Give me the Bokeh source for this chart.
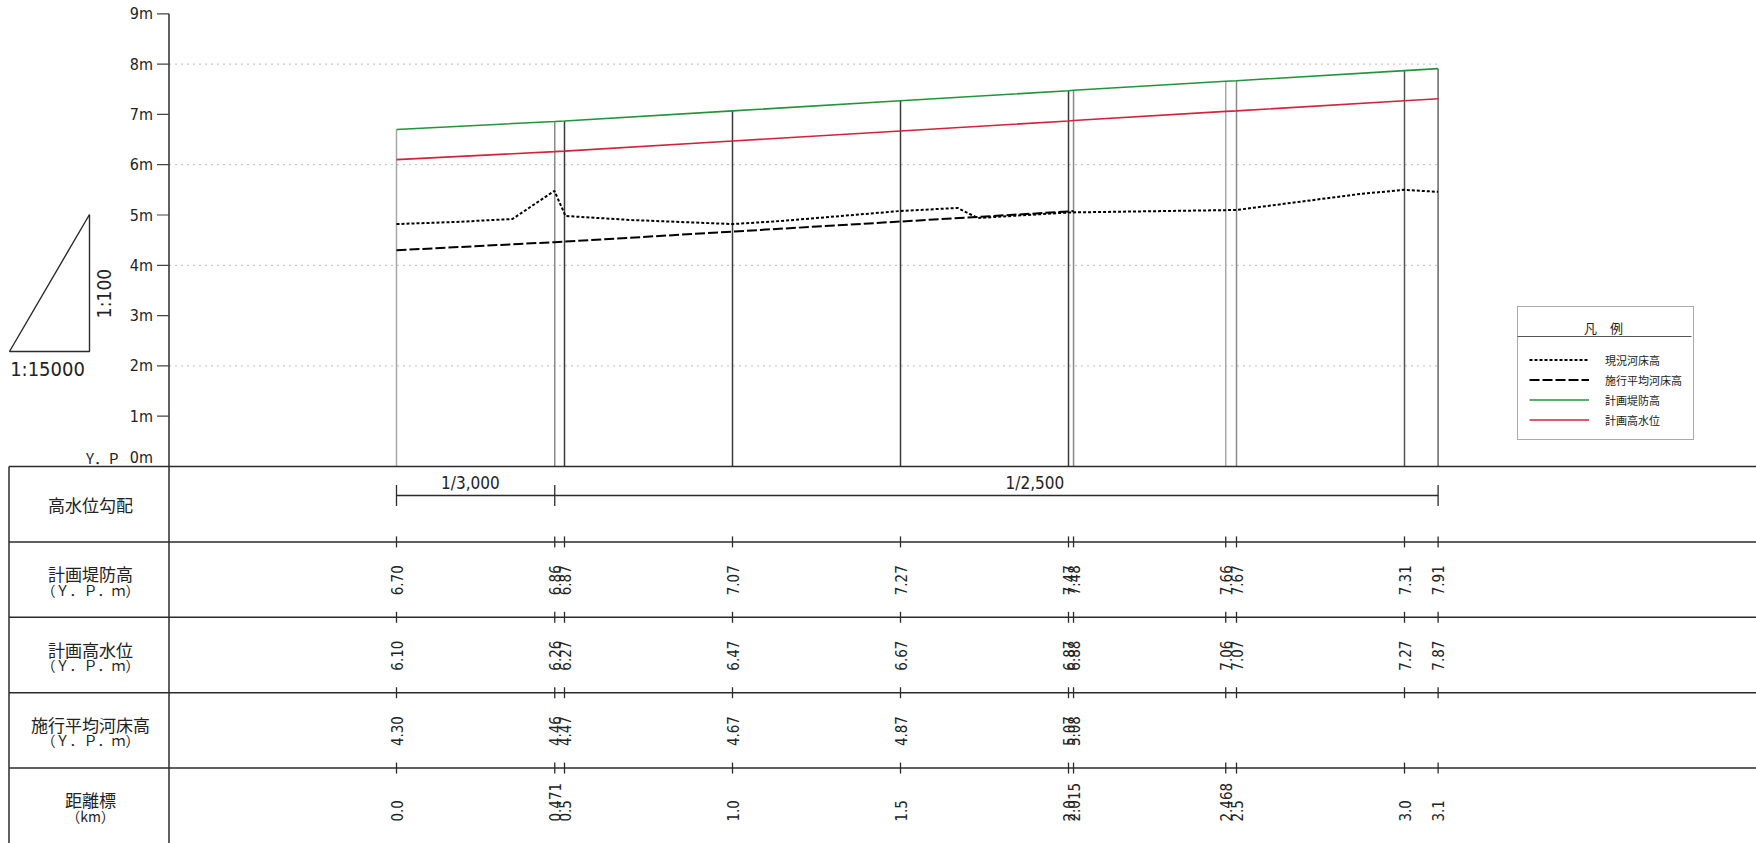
import math
from bokeh.plotting import figure
from bokeh.models import Range1d, Legend, LegendItem
from bokeh.core.properties import value
from bokeh.embed import file_html
from bokeh.resources import INLINE

# ---------------- data ----------------
stations_km = [0.0, 0.471, 0.5, 1.0, 1.5, 2.0, 2.015, 2.468, 2.5, 3.0, 3.1]
station_labels = ["0.0", "0.471", "0.5", "1.0", "1.5", "2.0", "2.015", "2.468", "2.5", "3.0", "3.1"]

levee_height = [6.70, 6.86, 6.87, 7.07, 7.27, 7.47, 7.48, 7.66, 7.67, 7.87, 7.91]
levee_labels = ["6.70", "6.86", "6.87", "7.07", "7.27", "7.47", "7.48", "7.66", "7.67", "7.31", "7.91"]

high_water = [6.10, 6.26, 6.27, 6.47, 6.67, 6.87, 6.88, 7.06, 7.07, 7.27, 7.31]
high_water_labels = ["6.10", "6.26", "6.27", "6.47", "6.67", "6.87", "6.88", "7.06", "7.07", "7.27", "7.87"]

plan_bed_km = [0.0, 0.471, 0.5, 1.0, 1.5, 2.0, 2.015]
plan_bed = [4.30, 4.46, 4.47, 4.67, 4.87, 5.07, 5.08]
plan_bed_labels = ["4.30", "4.46", "4.47", "4.67", "4.87", "5.07", "5.08"]

current_bed_km = [0.0, 0.17, 0.345, 0.47, 0.503, 0.70, 1.0, 1.143, 1.5, 1.67, 1.73, 2.0, 2.5, 2.87, 3.0, 3.1]
current_bed = [4.82, 4.86, 4.92, 5.48, 4.98, 4.90, 4.82, 4.88, 5.08, 5.14, 4.94, 5.05, 5.10, 5.42, 5.50, 5.46]

gradient_breaks_km = [0.0, 0.471, 3.1]
gradient_labels = ["1/3,000", "1/2,500"]
gradient_label_km = [0.22, 1.90]

y_ticks = [1, 2, 3, 4, 5, 6, 7, 8, 9]
y_tick_labels = ["1m", "2m", "3m", "4m", "5m", "6m", "7m", "8m", "9m"]
grid_levels = [2, 4, 6, 8]

row_titles = ["高水位勾配", "計画堤防高", "計画高水位", "施行平均河床高", "距離標"]
row_units = ["", "（Ｙ．Ｐ．ｍ）", "（Ｙ．Ｐ．ｍ）", "（Ｙ．Ｐ．ｍ）", "（km）"]

legend_names = ["現況河床高", "施行平均河床高", "計画堤防高", "計画高水位"]

# ---------------- layout constants (page pixels) ----------------
W, H = 1756, 843
PAGE = 0
X0_PX, PX_PER_KM = 396.0, 336.0
Y0_PX, PX_PER_M = 466.0, 50.3
ROW_PX = 75.4
N_ROWS = 5


def km(px):
    return (px - X0_PX) / PX_PER_KM


def m(py):
    return (Y0_PX - py) / PX_PER_M


x_start = km(PAGE)
x_end = x_start + W / PX_PER_KM
y_end = m(PAGE)
y_start = y_end - H / PX_PER_M
tbl_end = N_ROWS + (Y0_PX - PAGE) / ROW_PX
tbl_start = tbl_end - H / ROW_PX

AXIS_X = km(168.5)
LEFT_X = km(8.5)

NUM_FONT_NAME = "'Liberation Sans Narrow', 'DejaVu Sans Condensed', sans-serif"
JP_FONT_NAME = "Noto Sans CJK JP"
NUM_FONT = value(NUM_FONT_NAME)
JP_FONT = value(JP_FONT_NAME)
INK = "#2b2b2b"
TXT = "#222222"
GREEN = "#22943a"
RED = "#d4213d"

p = figure(width=W, height=H, x_range=Range1d(x_start, x_end), y_range=Range1d(y_start, y_end),
           x_axis_type=None, y_axis_type=None, output_backend="svg", toolbar_location=None,
           min_border=0, outline_line_color=None, background_fill_color="white",
           border_fill_color="white")
p.xgrid.visible = False
p.ygrid.visible = False
p.extra_y_ranges = {"tbl": Range1d(tbl_start, tbl_end)}

# ---------------- upper profile ----------------
p.segment(x0=[AXIS_X] * len(grid_levels), y0=grid_levels, x1=[stations_km[-1]] * len(grid_levels),
          y1=grid_levels, line_color="#bdbdbd", line_width=1, line_dash="2 4")

station_line_colors = ["#a8a8a8", "#8a8a8a", "#3a3a3a", "#3a3a3a", "#3a3a3a", "#3a3a3a",
                       "#8a8a8a", "#a8a8a8", "#8a8a8a", "#555555", "#666666"]
p.segment(x0=stations_km, y0=[0] * len(stations_km), x1=stations_km, y1=levee_height,
          line_color=station_line_colors, line_width=1.5)

r_cur = p.line(current_bed_km, current_bed, line_color="black", line_width=2, line_dash="3 2")
r_plan = p.line(plan_bed_km, plan_bed, line_color="black", line_width=2, line_dash="10 3")
r_levee = p.line(stations_km, levee_height, line_color=GREEN, line_width=1.6)
r_hwl = p.line(stations_km, high_water, line_color=RED, line_width=1.6)

# y axis
p.segment(x0=[AXIS_X], y0=[0], x1=[AXIS_X], y1=[y_ticks[-1]], line_color=INK, line_width=1.5)
p.segment(x0=[AXIS_X - 12 / PX_PER_KM] * len(y_ticks), y0=y_ticks, x1=[AXIS_X] * len(y_ticks),
          y1=y_ticks, line_color="#444444", line_width=1.2)
p.text(x=[AXIS_X] * len(y_ticks), y=y_ticks, text=y_tick_labels, x_offset=-16,
       text_align="right", text_baseline="middle", text_font=NUM_FONT,
       text_font_size="16px", text_color=TXT)
p.text(x=[AXIS_X], y=[0], text=["0m"], x_offset=-16, y_offset=-9, text_align="right",
       text_baseline="middle", text_font=NUM_FONT, text_font_size="16px", text_color=TXT)
p.text(x=[km(118)], y=[0], text=["Y．P"], y_offset=-9, text_align="right",
       text_baseline="middle", text_font=JP_FONT, text_font_size="15px", text_color=TXT)

# scale triangle
p.patch(x=[km(9), km(89), km(89)], y=[m(351), m(351), m(214)], fill_color=None,
        line_color=INK, line_width=1.4)
p.text(x=[km(47)], y=[m(351)], text=["1:15000"], y_offset=17, text_align="center",
       text_baseline="middle", text_font=NUM_FONT, text_font_size="20px", text_color=TXT)
p.text(x=[km(89)], y=[m(293)], text=["1:100"], x_offset=14, angle=math.pi / 2,
       text_align="center", text_baseline="middle", text_font=NUM_FONT,
       text_font_size="19px", text_color=TXT)

# legend (transparent so that the title separator drawn beneath shows)
LEG_L, LEG_R, LEG_B, LEG_SEP = 1517, 1691, 440, 336
legend = Legend(items=[LegendItem(label=legend_names[0], renderers=[r_cur]),
                       LegendItem(label=legend_names[1], renderers=[r_plan]),
                       LegendItem(label=legend_names[2], renderers=[r_levee]),
                       LegendItem(label=legend_names[3], renderers=[r_hwl])],
                location=(LEG_L - PAGE, PAGE + H - LEG_B), title="　　　　 凡　例",
                title_text_font=JP_FONT_NAME, title_text_font_size="13px",
                title_text_font_style="normal", title_text_color=TXT, title_standoff=14,
                label_text_font=JP_FONT_NAME, label_text_font_size="11px",
                label_text_color=TXT,
                glyph_width=60, glyph_height=17, label_height=17, label_width=70,
                label_standoff=16, spacing=3, padding=11, margin=0,
                border_line_color="#555555", border_line_width=1, background_fill_alpha=0.0)
p.add_layout(legend)
p.segment(x0=[km(LEG_L)], y0=[m(LEG_SEP)], x1=[km(LEG_R)], y1=[m(LEG_SEP)],
          line_color="#555555", line_width=1)

# ---------------- table ----------------
T = "tbl"
row_tops = [N_ROWS - i for i in range(N_ROWS)]  # 5,4,3,2,1
p.segment(x0=[LEFT_X] * N_ROWS, y0=row_tops, x1=[x_end] * N_ROWS, y1=row_tops,
          line_color=INK, line_width=1.5, y_range_name=T)
p.segment(x0=[LEFT_X, AXIS_X], y0=[tbl_start, tbl_start], x1=[LEFT_X, AXIS_X], y1=[N_ROWS, N_ROWS],
          line_color=INK, line_width=1.5, y_range_name=T)

row_centers = [N_ROWS - i - 0.5 for i in range(N_ROWS)]
title_x = km(90)
title_offsets = [0 if u == "" else -6 for u in row_units]
p.text(x=[title_x] * N_ROWS, y=row_centers, text=row_titles, y_offset=title_offsets,
       text_align="center", text_baseline="middle", text_font=JP_FONT, text_font_size="17px",
       text_color=TXT, y_range_name=T)
p.text(x=[title_x] * N_ROWS, y=row_centers, text=row_units, y_offset=10,
       text_align="center", text_baseline="middle", text_font=JP_FONT, text_font_size="14px",
       text_color=TXT, y_range_name=T)

# gradient dimension line
dim_y = N_ROWS - 29 / ROW_PX
p.segment(x0=[gradient_breaks_km[0]], y0=[dim_y], x1=[gradient_breaks_km[-1]], y1=[dim_y],
          line_color=INK, line_width=1.3, y_range_name=T)
p.scatter(x=gradient_breaks_km, y=[dim_y] * len(gradient_breaks_km), marker="dash",
          angle=math.pi / 2, size=21, line_color=INK, line_width=1.3, y_range_name=T)
p.text(x=gradient_label_km, y=[dim_y] * len(gradient_label_km), text=gradient_labels, y_offset=-3,
       text_align="center", text_baseline="bottom", text_font=NUM_FONT, text_font_size="17px",
       text_color=TXT, y_range_name=T)

# tick marks on the row boundaries at each station
for b in [4, 3, 2, 1]:
    p.scatter(x=stations_km, y=[b] * len(stations_km), marker="dash", angle=math.pi / 2, size=11,
              line_color=INK, line_width=1.3, y_range_name=T)


def row_values(xs, labels, row_bottom):
    p.text(x=xs, y=[row_bottom] * len(xs), text=labels, y_offset=-22, angle=math.pi / 2,
           text_align="left", text_baseline="middle", text_font=NUM_FONT, text_font_size="15px",
           text_color=TXT, y_range_name=T)


row_values(stations_km, levee_labels, 3)
row_values(stations_km, high_water_labels, 2)
row_values(plan_bed_km, plan_bed_labels, 1)
row_values(stations_km, station_labels, 0)

open("out.html", "w").write(file_html(p, INLINE))
